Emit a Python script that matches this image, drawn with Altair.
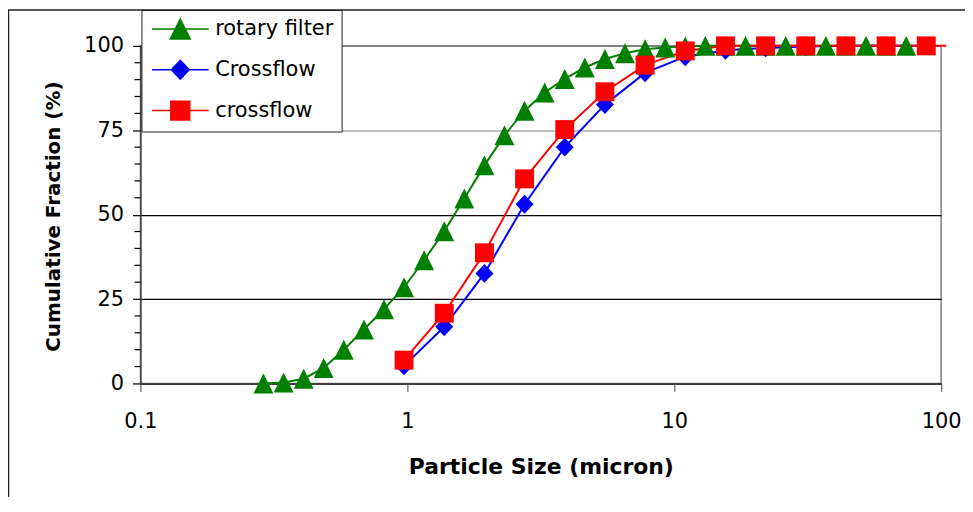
import altair as alt
import pandas as pd

# ---------------- data ----------------
series_names = ["rotary filter", "Crossflow", "crossflow"]
series_colors = ["#008000", "#0000FF", "#FF0000"]

rotary_x = [0.289, 0.344, 0.409, 0.486, 0.578, 0.688, 0.818, 0.972, 1.156, 1.375,
            1.635, 1.945, 2.312, 2.750, 3.270, 3.889, 4.625, 5.500, 6.541, 7.778,
            9.250, 11.00, 13.08, 15.56, 18.50, 22.00, 26.16, 31.11, 37.00, 44.00,
            52.33, 62.23, 74.00]
rotary_y = [0.0, 0.3, 1.4, 4.6, 10.0, 16.0, 22.0, 28.5, 36.5, 45.1,
            54.8, 64.6, 73.5, 80.8, 86.2, 90.2, 93.6, 96.1, 97.8, 99.0,
            99.5, 99.8, 100, 100, 100, 100, 100, 100, 100, 100,
            100, 100, 100]

cross_x = [0.972, 1.375, 1.945, 2.750, 3.889, 5.500, 7.778, 11.00, 15.56, 22.00,
           31.11, 44.00, 62.23, 88.00]
blue_y = [5.2, 16.8, 32.6, 53.1, 70.0, 82.6, 92.0, 96.8, 98.7, 99.4,
          99.8, 100, 100, 100]
red_y = [6.9, 20.8, 38.7, 60.6, 75.2, 86.4, 94.3, 98.5, 100, 100,
         100, 100, 100, 100]
# red line runs on past the last marker
red_tail_x = [104.7]
red_tail_y = [100]

y_major = [0, 25, 50, 75, 100]
y_minor = [5, 10, 15, 20, 30, 35, 40, 45, 55, 60, 65, 70, 80, 85, 90, 95]
x_ticks = [0.1, 1, 10, 100]

rows = []
for xv, yv in zip(rotary_x, rotary_y):
    rows.append({"series": "rotary filter", "x": xv, "y": yv, "marker": True})
for xv, yv in zip(cross_x, blue_y):
    rows.append({"series": "Crossflow", "x": xv, "y": yv, "marker": True})
for xv, yv in zip(cross_x, red_y):
    rows.append({"series": "crossflow", "x": xv, "y": yv, "marker": True})
for xv, yv in zip(red_tail_x, red_tail_y):
    rows.append({"series": "crossflow", "x": xv, "y": yv, "marker": False})
df = pd.DataFrame(rows)
df_pts = df[df["marker"]]
df_minor = pd.DataFrame({"y": y_minor})

FONT = "DejaVu Sans"

# marker shapes (unit = sqrt(size)/2 px)
plot_paths = [
    "M0,-1L1,1L-1,1Z",
    "M0,-0.95L0.9,0L0,0.95L-0.9,0Z",
    "M-0.95,-0.95H0.95V0.95H-0.95Z",
]
# legend symbols: line segment + marker
legend_paths = ["M-2.85,0H2.85" + p for p in plot_paths]

xscale = alt.Scale(type="log", domain=[0.1, 100], nice=False)
yscale = alt.Scale(domain=[0, 100], nice=False, zero=False)
color_scale = alt.Scale(domain=series_names, range=series_colors)

x_axis = alt.Axis(
    values=x_ticks, format="~g", title="Particle Size (micron)", grid=False,
    tickSize=8, tickColor="#808080", tickWidth=1.5,
    domainColor="#404040", domainWidth=2,
    labelFont=FONT, labelFontSize=21, labelColor="black", labelPadding=19,
    labelBaseline="top", labelFlush=False,
    titleFont=FONT, titleFontSize=22, titleFontWeight="bold", titleColor="black",
    titleX=402, titleY=90, titleBaseline="alphabetic", titleAlign="center",
)
y_axis = alt.Axis(
    values=y_major, orient="left", title="Cumulative Fraction (%)", grid=True,
    gridColor={"condition": {"test": "datum.value >= 75", "value": "#808080"}, "value": "#000000"},
    gridWidth=1.2,
    tickSize=8, tickColor="#000000", tickWidth=1.2,
    domainColor="#404040", domainWidth=1.5,
    labelFont=FONT, labelFontSize=21, labelColor="black", labelPadding=9,
    titleFont=FONT, titleFontSize=20, titleFontWeight="bold", titleColor="black",
    titleX=-87, titleY=171, titleAngle=270, titleAlign="center", titleBaseline="middle",
)

frame = alt.Chart(alt.Data(values=[{"k": 1}])).mark_rect(
    fill="white", fillOpacity=0, stroke="#222222", strokeWidth=1.5
).encode(
    x=alt.value(-132.5), x2=alt.value(1100), y=alt.value(-36), y2=alt.value(900)
)

lines = alt.Chart(df).mark_line(strokeWidth=2).encode(
    x=alt.X("x:Q", scale=xscale, axis=x_axis),
    y=alt.Y("y:Q", scale=yscale, axis=y_axis),
    color=alt.Color("series:N", scale=color_scale, legend=None),
    order=alt.Order("x:Q"),
)

minor_ticks = alt.Chart(df_minor).mark_rule(color="#000000", strokeWidth=1.2).encode(
    y=alt.Y("y:Q", scale=yscale),
    x=alt.value(-6), x2=alt.value(0),
)

points = alt.Chart(df_pts).mark_point(filled=True, size=400, opacity=1, strokeWidth=0).encode(
    x=alt.X("x:Q", scale=xscale),
    y=alt.Y("y:Q", scale=yscale),
    color=alt.Color("series:N", scale=color_scale, legend=None),
    shape=alt.Shape("series:N", scale=alt.Scale(domain=series_names, range=plot_paths), legend=None),
)

legend_layer = alt.Chart(df).transform_filter("false").mark_point(
    filled=True, size=400, opacity=1, strokeWidth=1.5
).encode(
    color=alt.Color("series:N", scale=alt.Scale(domain=series_names, range=series_colors),
                    legend=alt.Legend(title=None)),
    stroke=alt.Stroke("series:N", scale=alt.Scale(domain=series_names, range=series_colors),
                      legend=alt.Legend(title=None)),
    shape=alt.Shape("series:N", scale=alt.Scale(domain=series_names, range=legend_paths),
                    legend=alt.Legend(title=None)),
)

chart = alt.layer(frame, lines, minor_ticks, points, legend_layer).resolve_scale(
    color="independent", shape="independent", stroke="independent"
).properties(
    width=804, height=339,
    autosize=alt.AutoSizeParams(type="none"),
    padding={"left": 133, "top": 37, "right": 24, "bottom": 113},
).configure_view(
    stroke="#808080", strokeWidth=1.5
).configure_legend(
    orient="none", legendX=1, legendY=-36,
    padding=8, strokeColor="#222222", fillColor="white",
    labelFont=FONT, labelFontSize=21, labelColor="black",
    symbolSize=400, symbolStrokeWidth=1.5, symbolOffset=20,
    labelOffset=24, rowPadding=15, labelLimit=400,
)

chart.save("out.html", embed_options={"renderer": "svg", "actions": False})
